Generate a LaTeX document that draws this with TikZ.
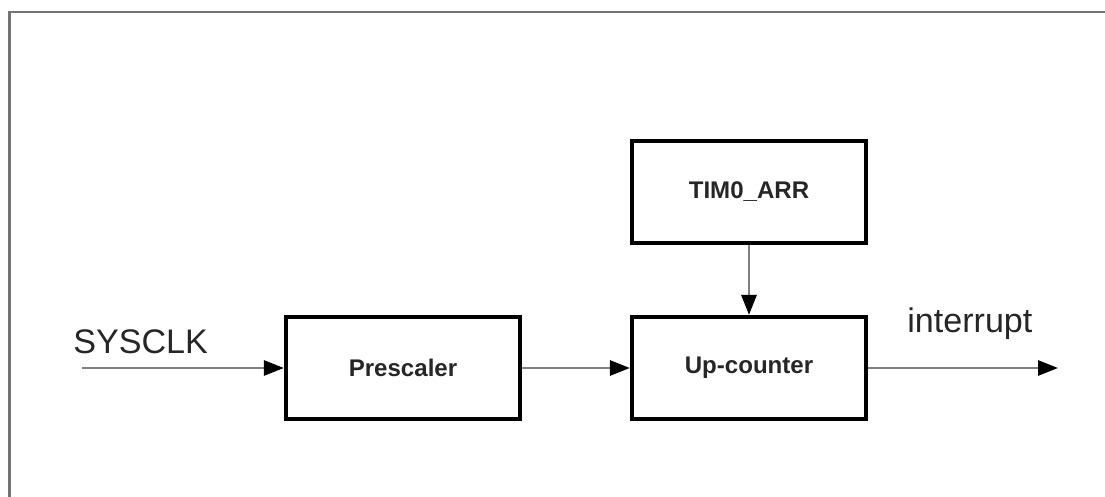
\documentclass[tikz,border=0pt]{standalone}
\usepackage{fontspec}
\setmainfont{Liberation Sans}
\usepackage{tikz}
\usetikzlibrary{arrows.meta}

\begin{document}
\begin{tikzpicture}[
    block/.style={draw=black, line width=2.4pt, minimum width=4.68cm, minimum height=2.04cm,
                  inner sep=0pt, font=\fontsize{13.7}{16}\selectfont\bfseries, text=black!85},
    signal/.style={draw=black!50, line width=1.6pt,
                   -{Triangle[length=0.4cm, width=0.3cm, color=black]}},
    label/.style={inner sep=0pt, anchor=base west, text=black!85, font=\fontsize{19.4}{22}\selectfont}
  ]

    \useasboundingbox (0,0) rectangle (22.1,-9.94);

    % open frame
    \draw[black!55, line width=1.4pt] (0.19,-9.94) |- (22.1,-0.24);

    % prescaler
    \node[block] (prescaler) at (8.06,-7.36) {Prescaler};

    % up-counter
    \node[block] (counter) at (14.98,-7.36) {Up-counter};

    % auto-reload register
    \node[block] (arr) at (14.98,-3.84) {TIM0\_ARR};

    % clock input
    \coordinate (clkin) at (1.64,-7.36);
    \node[label] (sysclk) at (1.46,-7.08) {SYSCLK};
    \draw[signal] (clkin) to (prescaler.west);

    % interrupt output
    \coordinate (irqout) at (21.16,-7.36);
    \node[label] (irq) at (18.14,-6.66) {interrupt};
    \draw[signal] (counter.east) to (irqout);

    % internal signals
    \draw[signal] (prescaler.east) to (counter.west);
    \draw[signal] (arr.south) to (counter.north);

\end{tikzpicture}
\end{document}
